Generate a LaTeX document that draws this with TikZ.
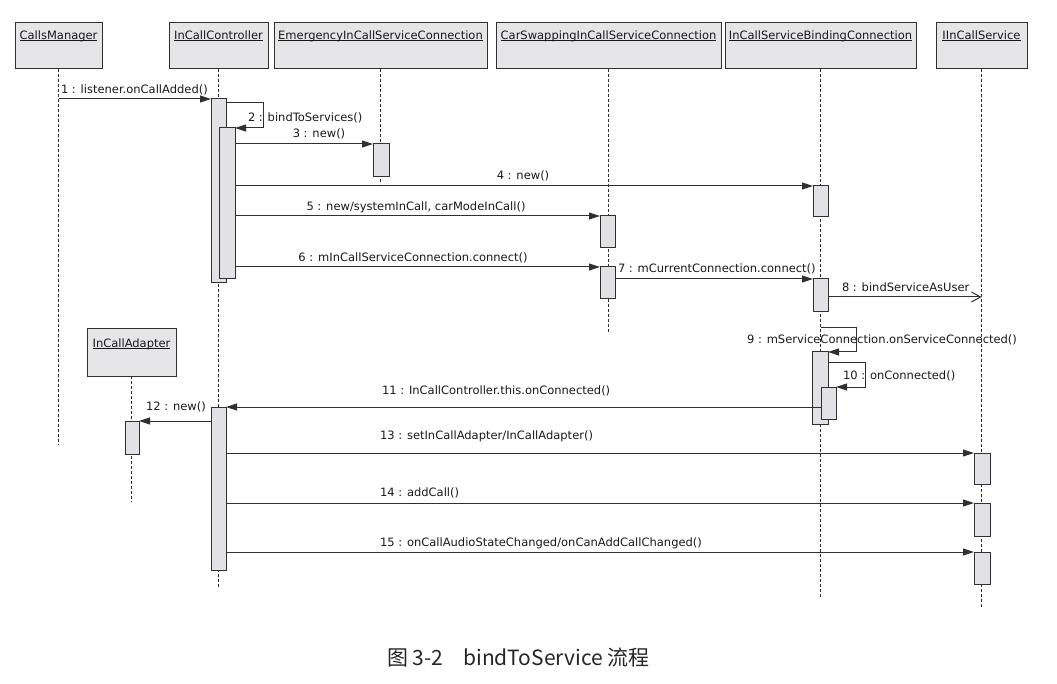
\documentclass[tikz,border=0pt]{standalone}
\usepackage{fontspec}
\setmainfont{DejaVu Sans}
\newfontfamily\cjkfont{Noto Sans CJK SC}
\usetikzlibrary{arrows.meta,fit,calc}
\definecolor{ln}{HTML}{303030}
\definecolor{hdrfill}{HTML}{E6E6E8}
\definecolor{barfill}{HTML}{E2E2E6}
\newcommand\hul[1]{\setbox0\hbox{#1}\rlap{\rule[-1.6pt]{\wd0}{0.7pt}}\box0}
\begin{document}
\begin{tikzpicture}[x=1pt,y=-1pt,
  every node/.style={inner sep=0pt, outer sep=0pt},
  hdr/.style={draw=ln, line width=1pt, fill=hdrfill},
  htext/.style={font=\fontsize{11.5}{13}\selectfont, text=black!90, anchor=base},
  bar/.style={draw=ln, line width=1pt, fill=barfill},
  life/.style={draw=ln, line width=1.3pt, dash pattern=on 3pt off 2pt},
  msg/.style={draw=ln, line width=1pt, -{Triangle[length=11pt,width=7pt]}},
  amsg/.style={draw=ln, line width=1pt, -{Straight Barb[length=9pt,width=10pt]}},
  lbl/.style={font=\fontsize{11.5}{13}\selectfont, text=black!90},
]
\useasboundingbox[fill=white] (0,0) rectangle (1057,684);

% headers
\node[hdr, fit={(15,23)(102,69)}] (cmB) {};
\node[htext] (cmT) at (58.5,39.5) {\hul{CallsManager}};
\node[hdr, fit={(169,23)(268,69)}] (icB) {};
\node[htext] (icT) at (218.5,39.5) {\hul{InCallController}};
\node[hdr, fit={(274,23)(487,69)}] (emB) {};
\node[htext] (emT) at (380.5,39.5) {\hul{EmergencyInCallServiceConnection}};
\node[hdr, fit={(496,23)(721,69)}] (csB) {};
\node[htext] (csT) at (608.5,39.5) {\hul{CarSwappingInCallServiceConnection}};
\node[hdr, fit={(725,23)(916,69)}] (bdB) {};
\node[htext] (bdT) at (820.5,39.5) {\hul{InCallServiceBindingConnection}};
\node[hdr, fit={(936,23)(1027,69)}] (isB) {};
\node[htext] (isT) at (981.5,39.5) {\hul{IInCallService}};
\node[hdr, fit={(87,329)(176,376)}] (adB) {};
\node[htext] (adT) at (131.5,347.5) {\hul{InCallAdapter}};

% lifeline ends
\coordinate (cmE) at (0,445);
\coordinate (icE) at (0,587);
\coordinate (emE) at (0,184);
\coordinate (csE) at (0,332);
\coordinate (bdE) at (0,597);
\coordinate (isE) at (0,607);
\coordinate (adE) at (0,502);
\draw[life] (cmB.south) -- (cmB.south |- cmE);
\draw[life] (icB.south) -- (icB.south |- icE);
\draw[life] (emB.south) -- (emB.south |- emE);
\draw[life] (csB.south) -- (csB.south |- csE);
\draw[life] (bdB.south) -- (bdB.south |- bdE);
\draw[life] (isB.south) -- (isB.south |- isE);
\draw[life] (adB.south) -- (adB.south |- adE);

% activation bars
\node[bar, fit={(211,99)(226,283)}] (A) {};
\node[bar, fit={(219,128)(235,279)}] (B) {};
\node[bar, fit={(373,144)(389,177)}] (E) {};
\node[bar, fit={(600,216)(615,248)}] (C1) {};
\node[bar, fit={(600,267)(615,299)}] (C2) {};
\node[bar, fit={(813,186)(828,217)}] (S1) {};
\node[bar, fit={(813,279)(828,312)}] (S2) {};
\node[bar, fit={(812,352)(828,424)}] (S3) {};
\node[bar, fit={(821,387)(836,419)}] (S4) {};
\node[bar, fit={(211,407)(226,570)}] (CC) {};
\node[bar, fit={(125,421)(139,454)}] (AD) {};
\node[bar, fit={(974,453)(990,484)}] (I1) {};
\node[bar, fit={(974,503)(990,536)}] (I2) {};
\node[bar, fit={(974,552)(990,584)}] (I3) {};

% messages
\coordinate (m8) at (0,297);
\coordinate (m9) at (0,328);
\draw[msg] (cmB.south |- A.north west) -- (A.north west);
\draw[msg] ($(A.north east)+(0,4)$) -- ++(37,0) -- ++(0,25) -- (B.north east);
\draw[msg] (B.east |- E.north) -- (E.north west);
\draw[msg] (B.east |- S1.north) -- (S1.north west);
\draw[msg] (B.east |- C1.north) -- (C1.north west);
\draw[msg] (B.east |- C2.north) -- (C2.north west);
\draw[msg] (C2.east |- S2.north) -- (S2.north west);
\draw[amsg] (S2.east |- m8) -- (isB.south |- m8);
\draw[msg] (bdB.south |- m9) -- ++(36,0) |- (S3.north east);
\draw[msg] ($(S3.north east)+(0,10)$) -- ++(37,0) |- (S4.north east);
\draw[msg] (S4.west |- CC.north east) -- (CC.north east);
\draw[msg] (CC.west |- AD.north) -- (AD.north east);
\draw[msg] (CC.east |- I1.north) -- (I1.north west);
\draw[msg] (CC.east |- I2.north) -- (I2.north west);
\draw[msg] (CC.east |- I3.north) -- (I3.north west);

% labels
\node[lbl, anchor=base west] (l1) at (61,93.5) {1 : listener.onCallAdded()};
\node[lbl, anchor=base west] (l2) at (248,121.5) {2 : bindToServices()};
\node[lbl, anchor=base] (l3) at (319,137.5) {3 : new()};
\node[lbl, anchor=base] (l4) at (523,179.5) {4 : new()};
\node[lbl, anchor=base] (l5) at (416,210.5) {5 : new/systemInCall, carModeInCall()};
\node[lbl, anchor=base] (l6) at (413,261.5) {6 : mInCallServiceConnection.connect()};
\node[lbl, anchor=base west] (l7) at (618,272.5) {7 : mCurrentConnection.connect()};
\node[lbl, anchor=base west] (l8) at (842,291.5) {8 : bindServiceAsUser};
\node[lbl, anchor=base] (l9) at (882,343.5) {9 : mServiceConnection.onServiceConnected()};
\node[lbl, anchor=base west] (l10) at (843,379.5) {10 : onConnected()};
\node[lbl, anchor=base west] (l11) at (382,394.5) {11 : InCallController.this.onConnected()};
\node[lbl, anchor=base west] (l12) at (146,410.5) {12 : new()};
\node[lbl, anchor=base west] (l13) at (380,439.5) {13 : setInCallAdapter/InCallAdapter()};
\node[lbl, anchor=base west] (l14) at (380,496.5) {14 : addCall()};
\node[lbl, anchor=base west] (l15) at (380,546.5) {15 : onCallAudioStateChanged/onCanAddCallChanged()};

% caption
\node[anchor=west, font=\cjkfont\fontsize{21}{24}\selectfont, text=black!85] (cap) at (387,658) {图 3-2\hspace{20pt}bindToService 流程};
\end{tikzpicture}
\end{document}
